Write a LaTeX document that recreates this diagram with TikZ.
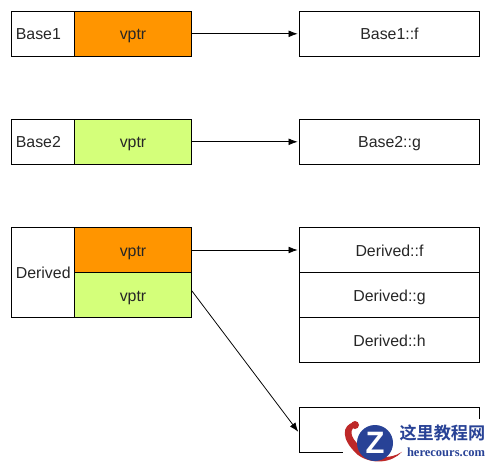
\documentclass[tikz,border=0pt]{standalone}
\usepackage{xcolor}
\usepackage{fontspec}
\setmainfont{Liberation Sans}
\newfontfamily\cjk{Noto Sans CJK SC}[BoldFont={* Bold}]
\newfontfamily\markfont{Liberation Serif}
\usetikzlibrary{arrows.meta}
\definecolor{vorange}{RGB}{255,149,0}
\definecolor{vgreen}{RGB}{212,255,122}
\definecolor{markblue}{RGB}{40,66,150}
\definecolor{markred}{RGB}{190,40,40}
\tikzset{
  cell/.style={draw=black, line width=0.55pt, text=black!85, font=\fontsize{11.3}{13}\selectfont, inner sep=0pt, text height=9.4pt, text depth=0.6pt},
  namebox/.style={cell, text width=38.6pt, inner xsep=3pt, minimum height=1.1125cm, align=left},
  vptrbox/.style={cell, minimum width=2.925cm, minimum height=1.125cm},
  slotbox/.style={cell, minimum width=4.5cm, minimum height=1.125cm},
  link/.style={-{Latex[length=2.3mm,width=1.7mm]}, line width=0.55pt, shorten >=1pt}
}
\begin{document}
\begin{tikzpicture}
\useasboundingbox (0,0) rectangle (12.25,11.575);
\node[namebox] (b1name) at (1.075,10.73) {Base1};
\node[vptrbox, fill=vorange, minimum height=1.1125cm] (b1vptr) at (3.325,10.73) {vptr};
\node[slotbox, minimum height=1.1125cm] (b1f) at (9.7375,10.73) {Base1::f};
\node[namebox] (b2name) at (1.075,8.03) {Base2};
\node[vptrbox, fill=vgreen, minimum height=1.1125cm] (b2vptr) at (3.325,8.03) {vptr};
\node[slotbox, minimum height=1.1125cm] (b2g) at (9.7375,8.03) {Base2::g};
\node[namebox, minimum height=2.25cm] (dname) at (1.075,4.7625) {Derived};
\node[vptrbox, fill=vorange] (dvptr1) at (3.325,5.325) {vptr};
\node[vptrbox, fill=vgreen] (dvptr2) at (3.325,4.2) {vptr};
\node[slotbox] (df) at (9.7375,5.325) {Derived::f};
\node[slotbox] (dg) at (9.7375,4.2) {Derived::g};
\node[slotbox] (dh) at (9.7375,3.075) {Derived::h};
\node[slotbox] (dslot) at (9.7375,0.83) {};
\draw[link] (b1vptr)--(b1f);
\draw[link] (b2vptr)--(b2g);
\draw[link] (dvptr1)--(df);
\draw[link] (dvptr2.4)--(dslot.182);
% watermark
\fill[white] (8.58,0) rectangle (12.25,1.1);
\fill[markred] (8.85,1.02) .. controls (8.55,0.95) and (8.5,0.6) .. (8.95,0.2) .. controls (9.3,-0.05) and (9.8,0) .. (10.05,0.28) .. controls (9.75,0.08) and (9.35,0.1) .. (9.0,0.42) .. controls (8.75,0.65) and (8.7,0.85) .. (8.95,0.95) -- cycle;
\fill[markred] (8.875,0.95) circle (0.1);
\node[circle, fill=markblue, minimum size=0.9cm, inner sep=0pt, text=white, font=\bfseries\fontsize{22}{22}\selectfont] (logo) at (9.375,0.5) {Z};
\node[text=markblue, inner sep=0pt, font=\cjk\bfseries\fontsize{12.2}{14}\selectfont] (marktitle) at (11.06,0.74) {这里教程网};
\node[text=markblue, inner sep=0pt, font=\markfont\bfseries\fontsize{8.9}{10}\selectfont] (markurl) at (11.15,0.28) {herecours.com};
\end{tikzpicture}
\end{document}
